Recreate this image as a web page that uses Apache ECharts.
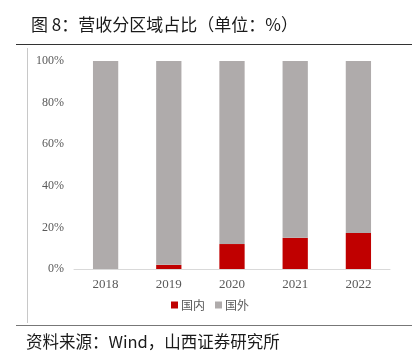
<!DOCTYPE html>
<html><head><meta charset="utf-8">
<script src="https://cdn.jsdelivr.net/npm/echarts@6/dist/echarts.min.js"></script>
<style>html,body{margin:0;padding:0;background:#fff}#c{width:420px;height:361px}</style>
</head><body><div id="c"></div>
<script>
const categories = ['2018','2019','2020','2021','2022'];
const domestic = [0, 2, 12, 15, 17.3];
const overseas = [100, 98, 88, 85, 82.7];
const yTicks = [0, 20, 40, 60, 80, 100];

const chart = echarts.init(document.getElementById('c'));
chart.setOption({
  animation: false,
  title: {
    text: '图 8：营收分区域占比（单位：%）',
    left: 26, top: 11,
    textStyle: { fontFamily: 'Noto Sans CJK SC', fontSize: 17, fontWeight: 'normal', color: '#1a1a1a' }
  },
  graphic: [
    { type: 'line', shape: { x1: 16, y1: 44.5, x2: 412, y2: 44.5 }, style: { stroke: '#333', lineWidth: 1.2 } },
    { type: 'line', shape: { x1: 27.5, y1: 48, x2: 27.5, y2: 323 }, style: { stroke: '#c8c8c8', lineWidth: 1 } },
    { type: 'line', shape: { x1: 16, y1: 325.5, x2: 412, y2: 325.5 }, style: { stroke: '#777', lineWidth: 1.2 } },
    { type: 'text', left: 26, top: 333, style: { text: '资料来源：Wind，山西证券研究所', font: '16.5px "Noto Sans CJK SC"', fill: '#1a1a1a' } }
  ],
  grid: { left: 74, right: 30, top: 61, bottom: 92, containLabel: false },
  legend: {
    data: ['国内', '国外'],
    bottom: 45, left: 'center',
    itemWidth: 7, itemHeight: 7, itemGap: 10,
    icon: 'rect',
    textStyle: { fontFamily: 'Noto Sans CJK SC', fontSize: 12, color: '#595959', padding: [0, 0, 0, -2] }
  },
  xAxis: {
    type: 'category', data: categories,
    axisLine: { lineStyle: { color: '#d9d9d9' } },
    axisTick: { show: false },
    axisLabel: { fontFamily: 'Liberation Serif', fontSize: 13, color: '#595959', margin: 9 }
  },
  yAxis: {
    type: 'value', min: 0, max: 100, interval: 20,
    splitLine: { show: false },
    axisLine: { show: false }, axisTick: { show: false },
    axisLabel: { fontFamily: 'Liberation Serif', fontSize: 12, color: '#595959', margin: 10,
      formatter: v => yTicks.includes(v) ? v + '%' : '' }
  },
  series: [
    { name: '国内', type: 'bar', stack: 's', data: domestic, barWidth: '40%', itemStyle: { color: '#C00000' } },
    { name: '国外', type: 'bar', stack: 's', data: overseas, barWidth: '40%', itemStyle: { color: '#AFABAB' } }
  ]
});
</script></body></html>
